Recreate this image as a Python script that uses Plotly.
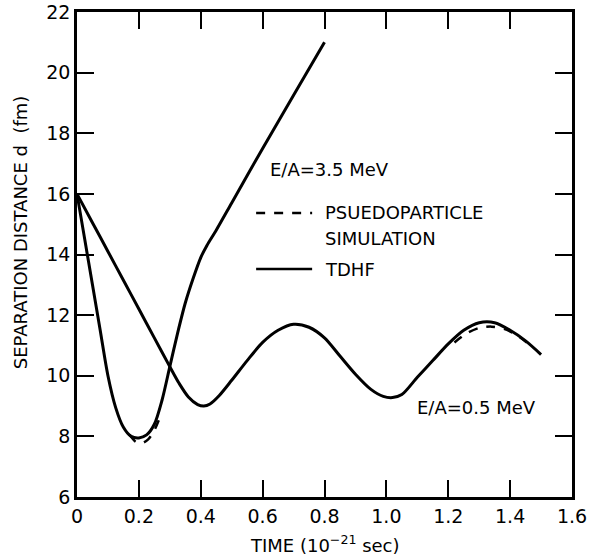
import plotly.graph_objects as go

# ---- data ----
t_hi_tdhf = [0, 0.025, 0.05, 0.075, 0.1, 0.125, 0.15, 0.175, 0.2, 0.225, 0.25, 0.275,
             0.3, 0.325, 0.35, 0.375, 0.4, 0.42, 0.45, 0.5, 0.6, 0.7, 0.8]
d_hi_tdhf = [16, 14.5, 13.0, 11.5, 10.0, 8.95, 8.3, 8.0, 7.95, 8.05, 8.4, 9.2,
             10.3, 11.4, 12.4, 13.2, 13.9, 14.3, 14.8, 15.7, 17.5, 19.25, 21.0]

t_hi_pseudo = [0.17, 0.19, 0.21, 0.23, 0.25, 0.265]
d_hi_pseudo = [8.05, 7.82, 7.78, 7.9, 8.2, 8.55]

t_lo_tdhf = [0, 0.05, 0.1, 0.15, 0.2, 0.25, 0.3, 0.33, 0.36, 0.39, 0.41, 0.43, 0.46,
             0.5, 0.55, 0.6, 0.65, 0.7, 0.75, 0.8, 0.85, 0.9, 0.95, 0.99, 1.02, 1.05,
             1.1, 1.15, 1.2, 1.25, 1.3, 1.35, 1.4, 1.45, 1.5]
d_lo_tdhf = [16, 15.05, 14.1, 13.15, 12.2, 11.25, 10.3, 9.75, 9.3, 9.05, 9.0, 9.07, 9.35,
             9.85, 10.5, 11.1, 11.5, 11.7, 11.6, 11.25, 10.65, 10.05, 9.55, 9.32, 9.28, 9.38,
             9.95, 10.5, 11.05, 11.5, 11.75, 11.75, 11.5, 11.15, 10.7]

t_lo_pseudo = [1.22, 1.26, 1.3, 1.34, 1.38, 1.42, 1.46]
d_lo_pseudo = [11.1, 11.4, 11.58, 11.62, 11.55, 11.35, 11.05]

x_ticks = [0, 0.2, 0.4, 0.6, 0.8, 1.0, 1.2, 1.4, 1.6]
x_tick_text = ["0", "0.2", "0.4", "0.6", "0.8", "1.0", "1.2", "1.4", "1.6"]
y_ticks = [6, 8, 10, 12, 14, 16, 18, 20, 22]
y_tick_text = ["6", "8", "10", "12", "14", "16", "18", "20", "22"]

FONT = "DejaVu Sans, Liberation Sans, Arial"
INK = "black"

fig = go.Figure()

solid = dict(color=INK, width=3, shape="spline", smoothing=0.8)
dashed = dict(color=INK, width=2.5, dash="dash", shape="spline", smoothing=0.8)

fig.add_trace(go.Scatter(x=t_hi_tdhf, y=d_hi_tdhf, mode="lines", line=solid, showlegend=False))
fig.add_trace(go.Scatter(x=t_lo_tdhf, y=d_lo_tdhf, mode="lines", line=solid, showlegend=False))
fig.add_trace(go.Scatter(x=t_hi_pseudo, y=d_hi_pseudo, mode="lines", line=dashed, showlegend=False))
fig.add_trace(go.Scatter(x=t_lo_pseudo, y=d_lo_pseudo, mode="lines", line=dashed, showlegend=False))

axis_common = dict(
    showgrid=False, zeroline=False, showline=True, linecolor=INK, linewidth=2.5,
    mirror="ticks", ticks="inside", ticklen=17, tickwidth=2, tickcolor=INK,
    tickfont=dict(family=FONT, size=19, color=INK), automargin=False,
)
fig.update_xaxes(range=[0, 1.6], tickvals=x_ticks, ticktext=x_tick_text, **axis_common)
fig.update_yaxes(range=[6, 22], tickvals=y_ticks, ticktext=y_tick_text, **axis_common)

# legend key lines (decoration)
fig.add_shape(type="line", x0=0.579, x1=0.76, y0=15.37, y1=15.37, xref="x", yref="y",
              line=dict(color=INK, width=2.5, dash="dash"))
fig.add_shape(type="line", x0=0.579, x1=0.76, y0=13.52, y1=13.52, xref="x", yref="y",
              line=dict(color=INK, width=2.5))

tf = dict(family=FONT, size=18, color=INK)
ann = [
    dict(x=0.617, y=16.82, text="E/A=3.5 MeV", xanchor="left", yanchor="middle"),
    dict(x=0.795, y=15.37, text="PSUEDOPARTICLE", xanchor="left", yanchor="middle"),
    dict(x=0.795, y=14.54, text="SIMULATION", xanchor="left", yanchor="middle"),
    dict(x=0.795, y=13.52, text="TDHF", xanchor="left", yanchor="middle"),
    dict(x=1.092, y=8.96, text="E/A=0.5 MeV", xanchor="left", yanchor="middle"),
]
for a in ann:
    fig.add_annotation(xref="x", yref="y", showarrow=False, font=tf, **a)

# axis titles
fig.add_annotation(xref="paper", yref="paper", x=-0.115, y=0.546, showarrow=False,
                   text="SEPARATION DISTANCE d  (fm)", textangle=-90,
                   xanchor="center", yanchor="middle", font=dict(family=FONT, size=18, color=INK))
fig.add_annotation(xref="paper", yref="paper", x=0.5, y=-0.097, showarrow=False,
                   text="TIME (10<sup>−21</sup> sec)",
                   xanchor="center", yanchor="middle", font=dict(family=FONT, size=18, color=INK))

fig.update_layout(
    width=589, height=556,
    margin=dict(l=77, r=17, t=12, b=59),
    paper_bgcolor="white", plot_bgcolor="white",
    showlegend=False,
)

# remove the default page margin so the figure fills the window exactly; hide the mode bar
fig.write_html("out.html", config={"displayModeBar": False},
               post_script="document.body.style.margin='0';")
